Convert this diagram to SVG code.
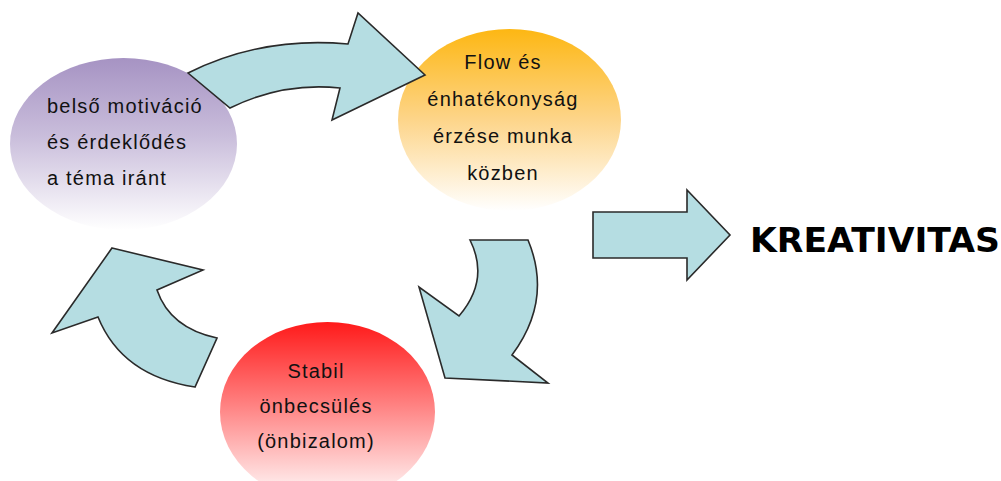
<svg xmlns="http://www.w3.org/2000/svg" width="1001" height="481" viewBox="0 0 1001 481">
<defs>
<linearGradient id="gPurple" x1="0" y1="0" x2="0" y2="1">
<stop offset="0" stop-color="#a693c3"/>
<stop offset="0.45" stop-color="#c9bddb"/>
<stop offset="1" stop-color="#ffffff"/>
</linearGradient>
<linearGradient id="gOrange" x1="0" y1="0" x2="0" y2="1">
<stop offset="0" stop-color="#fdb713"/>
<stop offset="0.5" stop-color="#fdd58a"/>
<stop offset="1" stop-color="#ffffff"/>
</linearGradient>
<linearGradient id="gRed" x1="0" y1="0" x2="0" y2="1">
<stop offset="0" stop-color="#ff1a1a"/>
<stop offset="0.45" stop-color="#ff7f7f"/>
<stop offset="1" stop-color="#ffffff"/>
</linearGradient>
</defs>
<style>
.lbl{font-family:"Liberation Sans",Arial,sans-serif;font-size:20px;letter-spacing:1.2px;fill:#111}
.mid{text-anchor:middle}
.arrow{fill:#b5dde2;stroke:#2a2a2a;stroke-width:1.6;stroke-linejoin:miter}
.big{font-family:"DejaVu Sans",sans-serif;font-weight:bold;font-size:34px;fill:#000}
</style>
<rect width="1001" height="481" fill="#ffffff"/>
<g id="node-motivacio">
<ellipse cx="123.5" cy="144" rx="113.5" ry="86" fill="url(#gPurple)"/>
<text class="lbl" x="47" y="113">belső motiváció</text>
<text class="lbl" x="47" y="149">és érdeklődés</text>
<text class="lbl" x="47" y="185">a téma iránt</text>
</g>
<g id="node-flow">
<ellipse cx="509.5" cy="120" rx="111.5" ry="91" fill="url(#gOrange)"/>
<text class="lbl mid" x="503" y="69">Flow és</text>
<text class="lbl mid" x="503" y="106">énhatékonyság</text>
<text class="lbl mid" x="503" y="143">érzése munka</text>
<text class="lbl mid" x="503" y="180">közben</text>
</g>
<g id="node-onbecsules">
<ellipse cx="327.5" cy="412" rx="107.5" ry="90" fill="url(#gRed)"/>
<text class="lbl mid" x="316" y="378">Stabil</text>
<text class="lbl mid" x="316" y="413">önbecsülés</text>
<text class="lbl mid" x="316" y="448">(önbizalom)</text>
</g>
<g id="node-kreativitas">
<text class="big" x="750" y="252" textLength="250" lengthAdjust="spacingAndGlyphs">KREATIVITAS</text>
</g>
<g id="connectors">
<path class="arrow" d="M188,73 Q262,36 348,44 L358,13 L425,75 L332,120 L340,88 Q283,82 230,108 Z"/>
<path class="arrow" d="M470,240 L528,240 Q553,300 512,355 L548,383 L445,378 L419,287 L459,316 Q490,280 470,240 Z"/>
<path class="arrow" d="M112,248 L203,270 L157,290 Q170,328 217,338 L195,387 Q122,376 98,317 L52,333 Z"/>
<path class="arrow" d="M593,212 L687,212 L687,190 L730,235 L687,280 L687,258 L593,258 Z"/>
</g>
</svg>
